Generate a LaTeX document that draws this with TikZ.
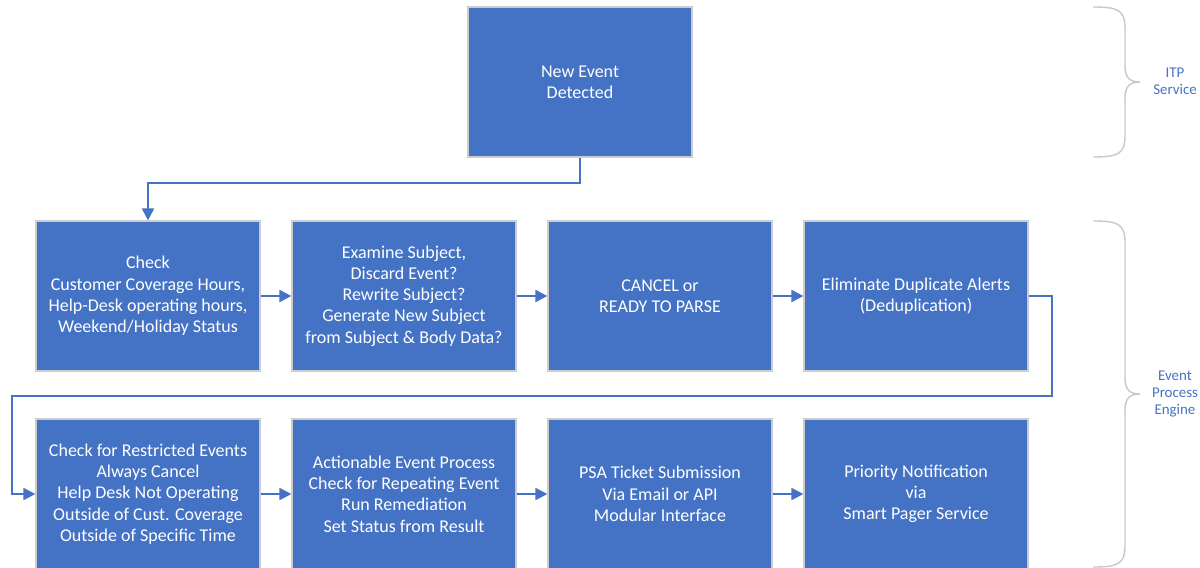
\documentclass[tikz,border=0pt]{standalone}
\usepackage{fontspec}
\setmainfont{Carlito}
\usetikzlibrary{arrows.meta, positioning}
\definecolor{boxblue}{HTML}{4472C4}
\definecolor{bracegray}{HTML}{C8C8C8}

\begin{document}
\begin{tikzpicture}[x=0.025cm, y=-0.025cm, >={Triangle[length=3mm, width=3mm]},
	block/.style={rectangle, fill=boxblue, draw=gray!40, line width=0.8pt, minimum width=5.6cm, minimum height=3.75cm, align=center, text=white, font=\fontsize{12.8}{15.1}\selectfont},
	flow/.style={->, draw=boxblue, line width=1.3pt},
	curly/.style={draw=bracegray, line width=1pt},
	tag/.style={text=boxblue, align=center, font=\fontsize{10.6}{12.2}\selectfont}]
	\useasboundingbox (0,0) rectangle (1200,567);
	%%%	Disegno
	% Evento
	\node[block] (new) at (580,82) {New Event\\Detected};
	
	% Prima riga
	\node[block] (chk) at (148,296) {Check\\Customer Coverage Hours,\\Help-Desk operating hours,\\Weekend/Holiday Status};
	\node[block] (subj) at (404,296) {Examine Subject,\\Discard Event?\\Rewrite Subject?\\Generate New Subject\\from Subject \& Body Data?};
	\node[block] (parse) at (660,296) {CANCEL or\\READY TO PARSE};
	\node[block] (dedup) at (916,296) {Eliminate Duplicate Alerts\\(Deduplication)};
	
	% Seconda riga
	\node[block] (restr) at (148,494) {Check for Restricted Events\\Always Cancel\\Help Desk Not Operating\\Outside of Cust. Coverage\\Outside of Specific Time};
	\node[block] (act) at (404,494) {Actionable Event Process\\Check for Repeating Event\\Run Remediation\\Set Status from Result};
	\node[block] (psa) at (660,494) {PSA Ticket Submission\\Via Email or API\\Modular Interface};
	\node[block] (page) at (916,494) {Priority Notification\\via\\Smart Pager Service};
	
	% Frecce
	\coordinate (wrapR) at (1052,396);
	\coordinate (wrapL) at (12,396);
	\draw[flow] (new.south) -- ++(0,25) -| (chk.north);
	\draw[flow] (chk) -- (subj);
	\draw[flow] (subj) -- (parse);
	\draw[flow] (parse) -- (dedup);
	\draw[flow] (dedup.east) -| (wrapR) -- (wrapL) |- (restr.west);
	\draw[flow] (restr) -- (act);
	\draw[flow] (act) -- (psa);
	\draw[flow] (psa) -- (page);
	
	% Graffe
	\draw[curly] (1093,7) .. controls (1118,7) and (1125,10) .. (1125,28) -- (1125,66) .. controls (1125,78) and (1130,82) .. (1140,82) .. controls (1130,82) and (1125,86) .. (1125,98) -- (1125,136) .. controls (1125,154) and (1118,157) .. (1093,157);
	\node[tag] (itp) at (1175,81) {ITP\\Service};
	\draw[curly] (1093,221) .. controls (1118,221) and (1125,224) .. (1125,242) -- (1125,378) .. controls (1125,390) and (1130,394) .. (1140,394) .. controls (1130,394) and (1125,398) .. (1125,410) -- (1125,546) .. controls (1125,564) and (1118,567) .. (1093,567);
	\node[tag] (engine) at (1175,394) {Event\\Process\\Engine};
	
\end{tikzpicture}
\end{document}
